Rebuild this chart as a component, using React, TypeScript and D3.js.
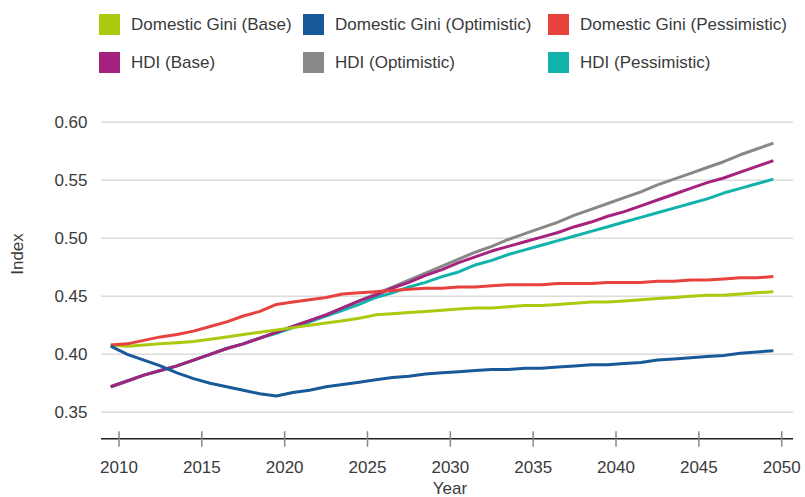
import * as React from "react"
import * as d3 from "d3"

// yearly points, 2010 .. 2050
const startYear = 2010
const giniBase = [
  0.408, 0.407, 0.408, 0.409, 0.41, 0.411, 0.413, 0.415, 0.417, 0.419, 0.421,
  0.423, 0.425, 0.427, 0.429, 0.431, 0.434, 0.435, 0.436, 0.437, 0.438, 0.439,
  0.44, 0.44, 0.441, 0.442, 0.442, 0.443, 0.444, 0.445, 0.445, 0.446, 0.447,
  0.448, 0.449, 0.45, 0.451, 0.451, 0.452, 0.453, 0.454,
]
const giniOptimistic = [
  0.407, 0.4, 0.395, 0.39, 0.384, 0.379, 0.375, 0.372, 0.369, 0.366, 0.364,
  0.367, 0.369, 0.372, 0.374, 0.376, 0.378, 0.38, 0.381, 0.383, 0.384, 0.385,
  0.386, 0.387, 0.387, 0.388, 0.388, 0.389, 0.39, 0.391, 0.391, 0.392, 0.393,
  0.395, 0.396, 0.397, 0.398, 0.399, 0.401, 0.402, 0.403,
]
const giniPessimistic = [
  0.408, 0.409, 0.412, 0.415, 0.417, 0.42, 0.424, 0.428, 0.433, 0.437, 0.443,
  0.445, 0.447, 0.449, 0.452, 0.453, 0.454, 0.455, 0.456, 0.457, 0.457, 0.458,
  0.458, 0.459, 0.46, 0.46, 0.46, 0.461, 0.461, 0.461, 0.462, 0.462, 0.462,
  0.463, 0.463, 0.464, 0.464, 0.465, 0.466, 0.466, 0.467,
]
const hdiBase = [
  0.372, 0.377, 0.382, 0.386, 0.39, 0.395, 0.4, 0.405, 0.409, 0.414, 0.419,
  0.424, 0.429, 0.434, 0.44, 0.446, 0.451, 0.457, 0.462, 0.468, 0.473, 0.479,
  0.484, 0.489, 0.493, 0.497, 0.501, 0.505, 0.51, 0.514, 0.519, 0.523, 0.528,
  0.533, 0.538, 0.543, 0.548, 0.552, 0.557, 0.562, 0.567,
]
const hdiOptimistic = [
  0.372, 0.377, 0.382, 0.386, 0.39, 0.395, 0.4, 0.405, 0.409, 0.414, 0.419,
  0.424, 0.429, 0.434, 0.44, 0.446, 0.452, 0.458, 0.464, 0.47, 0.476, 0.482,
  0.488, 0.493, 0.499, 0.504, 0.509, 0.514, 0.52, 0.525, 0.53, 0.535, 0.54,
  0.546, 0.551, 0.556, 0.561, 0.566, 0.572, 0.577, 0.582,
]
const hdiPessimistic = [
  0.372, 0.377, 0.382, 0.386, 0.39, 0.395, 0.4, 0.405, 0.409, 0.414, 0.418,
  0.423, 0.428, 0.433, 0.438, 0.443, 0.449, 0.453, 0.458, 0.462, 0.467, 0.471,
  0.477, 0.481, 0.486, 0.49, 0.494, 0.498, 0.502, 0.506, 0.51, 0.514, 0.518,
  0.522, 0.526, 0.53, 0.534, 0.539, 0.543, 0.547, 0.551,
]

const seriesNames = [
  "Domestic Gini (Base)",
  "Domestic Gini (Optimistic)",
  "Domestic Gini (Pessimistic)",
  "HDI (Base)",
  "HDI (Optimistic)",
  "HDI (Pessimistic)",
]
const seriesColors = ["#adc90f", "#185a99", "#e8423f", "#a5237f", "#888888", "#12b2ad"]
const seriesValues = [giniBase, giniOptimistic, giniPessimistic, hdiBase, hdiOptimistic, hdiPessimistic]
// draw order: back to front
const drawOrder = [4, 5, 3, 0, 2, 1]

const yTicks = [0.35, 0.4, 0.45, 0.5, 0.55, 0.6]
const xTicks = [2010, 2015, 2020, 2025, 2030, 2035, 2040, 2045, 2050]

const font = "'Liberation Sans', Arial, Helvetica, sans-serif"

export default function App() {
  const width = 805
  const height = 497
  const gridLeft = 101
  const gridRight = 793
  const axisY = 438.7

  const x = d3.scaleLinear().domain([2010, 2050]).range([119, 781.7])
  const y = d3.scaleLinear().domain([0.35, 0.6]).range([412.3, 122.3])
  const step = x(2011) - x(2010)

  const line = d3
    .line<number>()
    .x((_d, i) => x(startYear + i) - step / 2)
    .y((d) => y(d))

  const legendCols = [99, 303, 548]
  const legendRows = [14, 52]

  return (
    <svg
      width={width}
      height={height}
      style={{ position: "absolute", left: 0, top: 0, background: "#fff" }}
      fontFamily={font}
    >
      {/* legend */}
      {seriesNames.map((name, i) => {
        const lx = legendCols[i % 3]
        const ly = legendRows[Math.floor(i / 3)]
        return (
          <g key={name}>
            <rect x={lx} y={ly} width={21} height={21} fill={seriesColors[i]} />
            <text x={lx + 32} y={ly + 10.5} dy="0.35em" fontSize={17} fill="#3a3a3a">
              {name}
            </text>
          </g>
        )
      })}

      {/* grid + y labels */}
      {yTicks.map((t) => (
        <g key={t}>
          <line x1={gridLeft} x2={gridRight} y1={y(t)} y2={y(t)} stroke="#dcdcdc" strokeWidth={1.5} />
          <text x={87.5} y={y(t)} dy="0.35em" textAnchor="end" fontSize={17} fill="#3a3a3a">
            {t.toFixed(2)}
          </text>
        </g>
      ))}

      <text
        transform={`translate(17,254) rotate(-90)`}
        textAnchor="middle"
        dy="0.35em"
        fontSize={17}
        fill="#3a3a3a"
      >
        Index
      </text>

      {/* x axis */}
      <line x1={gridLeft} x2={gridRight} y1={axisY} y2={axisY} stroke="#222" strokeWidth={1.5} />
      {xTicks.map((t) => (
        <g key={t}>
          <line x1={x(t)} x2={x(t)} y1={axisY - 7.5} y2={axisY + 8} stroke="#888" strokeWidth={1.5} />
          <text x={x(t)} y={467} dy="0.35em" textAnchor="middle" fontSize={17} fill="#3a3a3a">
            {t}
          </text>
        </g>
      ))}
      <text x={450} y={488} dy="0.35em" textAnchor="middle" fontSize={17} fill="#3a3a3a">
        Year
      </text>

      {/* series */}
      {drawOrder.map((i) => (
        <path
          key={seriesNames[i]}
          d={line(seriesValues[i]) ?? ""}
          fill="none"
          stroke={seriesColors[i]}
          strokeWidth={3}
          strokeLinejoin="round"
        />
      ))}
    </svg>
  )
}
